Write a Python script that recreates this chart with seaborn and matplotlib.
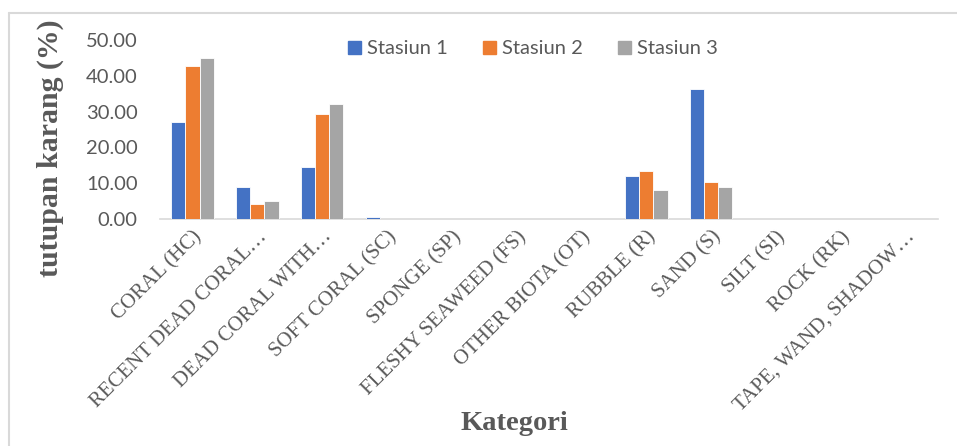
import pandas as pd
import matplotlib.pyplot as plt
import seaborn as sns
from matplotlib.lines import Line2D

# data
categories = ['CORAL (HC)', 'RECENT DEAD CORAL…', 'DEAD CORAL WITH…', 'SOFT CORAL (SC)',
              'SPONGE (SP)', 'FLESHY SEAWEED (FS)', 'OTHER BIOTA (OT)', 'RUBBLE (R)',
              'SAND (S)', 'SILT (SI)', 'ROCK (RK)', 'TAPE, WAND, SHADOW…']
stasiun_1 = [27.1, 8.9, 14.4, 0.6, 0, 0, 0, 12.0, 36.2, 0, 0, 0]
stasiun_2 = [42.6, 4.2, 29.2, 0, 0, 0, 0, 13.4, 10.2, 0, 0, 0]
stasiun_3 = [45.1, 5.0, 32.1, 0, 0, 0, 0, 8.1, 8.9, 0, 0, 0]
series_names = ['Stasiun 1', 'Stasiun 2', 'Stasiun 3']
y_ticks = [0, 10, 20, 30, 40, 50]

colors = ['#4472C4', '#ED7D31', '#A5A5A5']
grey = '#595959'
serif = 'Liberation Serif'
sans = 'Lato'

rows = []
for name, vals in zip(series_names, [stasiun_1, stasiun_2, stasiun_3]):
    for cat, v in zip(categories, vals):
        rows.append({'kategori': cat, 'stasiun': name, 'nilai': v})
df = pd.DataFrame(rows)

sns.set_style('white')
plt.rcParams['font.family'] = [sans, 'DejaVu Sans']

fig = plt.figure(figsize=(9.57, 4.46), dpi=100)
ax = fig.add_axes([160 / 957, 1 - 219 / 446, 778 / 957, 179 / 446])

sns.barplot(data=df, x='kategori', y='nilai', hue='stasiun', order=categories,
            hue_order=series_names, palette=colors, width=0.66, saturation=1,
            edgecolor='white', linewidth=0.6, errorbar=None, ax=ax, legend=False,
            zorder=3)

ax.set_xlim(-0.5, len(categories) - 0.5)
ax.set_ylim(0, 50)
ax.set_yticks(y_ticks)
ax.set_yticklabels([f'{t:.2f}' for t in y_ticks], fontsize=14.5, color=grey)
ax.set_xticks(range(len(categories)))
ax.set_xticklabels(categories, rotation=45, ha='right', rotation_mode='anchor',
                   fontsize=15, color=grey, family=serif)
ax.tick_params(axis='y', length=0, pad=16)
ax.tick_params(axis='x', length=0, pad=6)
ax.set_xlabel('')
ax.set_ylabel('')

for side in ['top', 'right', 'left']:
    ax.spines[side].set_visible(False)
ax.spines['bottom'].set_color('#D9D9D9')
ax.spines['bottom'].set_linewidth(1.2)
ax.spines['bottom'].set_zorder(1)

handles = [plt.Rectangle((0, 0), 1, 1, color=c) for c in colors]
fig.legend(handles, series_names, loc='center', bbox_to_anchor=(533 / 957, 1 - 49 / 446),
           ncol=3, frameon=False, fontsize=14.5, labelcolor=grey,
           handlelength=0.65, handleheight=0.65, handletextpad=0.3, columnspacing=1.75)

fig.text(50 / 957, 1 - 148 / 446, 'tutupan karang (%)', rotation=90, ha='center', va='center',
         fontsize=21.5, fontweight='bold', color=grey, family=serif)
fig.text(514 / 957, 1 - 424 / 446, 'Kategori', ha='center', va='center',
         fontsize=20.5, fontweight='bold', color=grey, family=serif)

# chart area border (left and top edges visible in the crop)
fig.add_artist(Line2D([8.5 / 957, 8.5 / 957], [0, 1 - 13 / 446], transform=fig.transFigure,
                      color='#D9D9D9', linewidth=1.5))
fig.add_artist(Line2D([8.5 / 957, 1], [1 - 13 / 446, 1 - 13 / 446], transform=fig.transFigure,
                      color='#D9D9D9', linewidth=1.5))

fig.savefig('out.png', dpi=100, facecolor='white')
